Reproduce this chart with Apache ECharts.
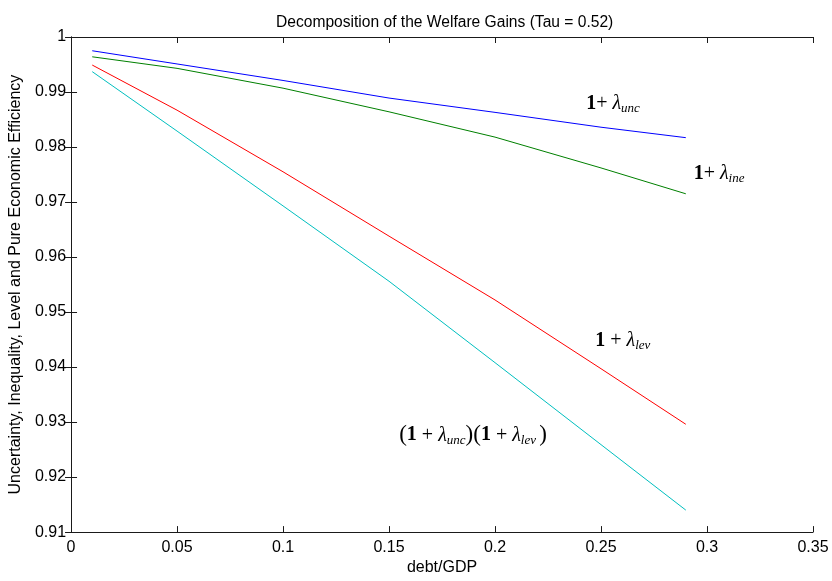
<!DOCTYPE html>
<html><head><meta charset="utf-8">
<script src="https://cdn.jsdelivr.net/npm/echarts@6/dist/echarts.min.js"></script>
<style>html,body{margin:0;padding:0;background:#fff}#c{width:832px;height:581px}</style>
</head><body><div id="c"></div>
<script>
// debt/GDP grid points
const debtGDP = [0.01, 0.05, 0.10, 0.15, 0.20, 0.25, 0.29];
// 1 + lambda_unc (blue)
const unc = [0.9975, 0.9951, 0.9921, 0.9889, 0.9863, 0.9836, 0.9817];
// 1 + lambda_ine (green)
const ine = [0.9964, 0.9943, 0.9907, 0.9864, 0.9818, 0.9762, 0.9715];
// 1 + lambda_lev (red)
const lev = [0.9949, 0.9867, 0.9755, 0.9638, 0.9522, 0.9397, 0.9296];
// (1 + lambda_unc)(1 + lambda_lev) (cyan)
const uncLev = [0.9937, 0.9829, 0.9693, 0.9556, 0.9408, 0.9259, 0.9140];

// annotation anchors in data coordinates [x, y]
const annotUnc = [0.2430, 0.98784];
const annotIne = [0.2937, 0.97514];
const annotLev = [0.2473, 0.94484];
const annotProd = [0.1548, 0.92760];

const pairs = (xs, ys) => xs.map((x, i) => [x, ys[i]]);

const SANS = 'Liberation Sans, Arial, sans-serif';
const SERIF = 'Liberation Serif, Times New Roman, serif';
const FS = 16;

const chart = echarts.init(document.getElementById('c'), null, {renderer: 'canvas'});

const axisCommon = {
  type: 'value',
  axisLine: {show: true, lineStyle: {color: '#1a1a1a', width: 1}},
  axisTick: {show: true, inside: true, length: 6, lineStyle: {color: '#1a1a1a'}},
  splitLine: {show: false}
};

const option = {
  animation: false,
  backgroundColor: '#fff',
  title: {
    text: 'Decomposition of the Welfare Gains (Tau = 0.52)',
    left: 271, top: 10,
    textStyle: {fontFamily: SANS, fontSize: 15.6, fontWeight: 'normal', color: '#000'}
  },
  grid: {left: 67, right: 19, top: 37, bottom: 48, containLabel: false},
  xAxis: [
    Object.assign({}, axisCommon, {
      position: 'bottom', min: 0, max: 0.35, interval: 0.05,
      name: 'debt/GDP', nameLocation: 'middle', nameGap: 26,
      nameTextStyle: {fontFamily: SANS, fontSize: FS, color: '#000'},
      axisLabel: {fontFamily: SANS, fontSize: FS, color: '#000', margin: 7}
    }),
    Object.assign({}, axisCommon, {
      position: 'top', min: 0, max: 0.35, interval: 0.05,
      axisLabel: {show: false}
    })
  ],
  yAxis: [
    Object.assign({}, axisCommon, {
      position: 'left', min: 0.91, max: 1, interval: 0.01,
      name: 'Uncertainty, Inequality, Level and Pure Economic Efficiency',
      nameLocation: 'middle', nameGap: 43, nameRotate: 90,
      nameTextStyle: {fontFamily: SANS, fontSize: FS, color: '#000'},
      axisLabel: {fontFamily: SANS, fontSize: FS, color: '#000', margin: 5}
    }),
    Object.assign({}, axisCommon, {
      position: 'right', min: 0.91, max: 1, interval: 0.01,
      axisLabel: {show: false}
    })
  ],
  series: [
    {name: 'unc', type: 'line', data: pairs(debtGDP, unc), color: '#0000ff'},
    {name: 'ine', type: 'line', data: pairs(debtGDP, ine), color: '#008000'},
    {name: 'lev', type: 'line', data: pairs(debtGDP, lev), color: '#ff0000'},
    {name: 'uncLev', type: 'line', data: pairs(debtGDP, uncLev), color: '#00bfbf'}
  ].map(s => Object.assign(s, {
    xAxisIndex: 0, yAxisIndex: 0, symbol: 'none', showSymbol: false,
    lineStyle: {width: 1, color: s.color}
  }))
};
chart.setOption(option);

const rich = {
  one: {fontFamily: SERIF, fontWeight: 'bold', fontSize: 20, color: '#000'},
  pl: {fontFamily: SERIF, fontSize: 20, color: '#000'},
  lam: {fontFamily: SERIF, fontStyle: 'italic', fontSize: 20, color: '#000'},
  sub: {fontFamily: SERIF, fontStyle: 'italic', fontSize: 13, color: '#000', padding: [10, 0, 0, 0]},
  par: {fontFamily: SERIF, fontSize: 23, color: '#000'}
};
function annot(pt, text) {
  const p = chart.convertToPixel({xAxisIndex: 0, yAxisIndex: 0}, pt);
  return {type: 'text', x: p[0], y: p[1], silent: true,
    style: {text: text, rich: rich, align: 'left', verticalAlign: 'middle'}};
}
chart.setOption({graphic: [
  annot(annotUnc, '{one|1}{pl|+ }{lam|λ}{sub|unc}'),
  annot(annotIne, '{one|1}{pl|+ }{lam|λ}{sub|ine}'),
  annot(annotLev, '{one|1}{pl| + }{lam|λ}{sub|lev}'),
  annot(annotProd, '{par|(}{one|1}{pl| + }{lam|λ}{sub|unc}{par|)(}{one|1}{pl| + }{lam|λ}{sub|lev }{par|)}')
]});
</script></body></html>
